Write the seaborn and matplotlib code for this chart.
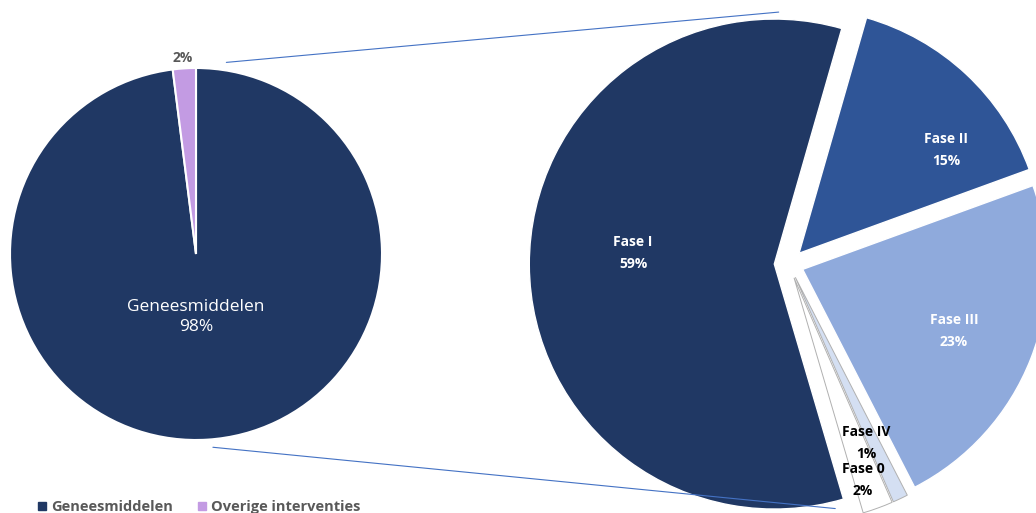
import numpy as np
import seaborn as sns
import matplotlib.pyplot as plt
from matplotlib.lines import Line2D

sns.set_theme(style="white")
plt.rcParams['font.family'] = ['Open Sans', 'DejaVu Sans']

# left pie: all interventions
groups = ["Geneesmiddelen", "Overige interventies"]
group_pct = [98, 2]
group_colors = ["#203864", "#c39be3"]

# right pie: phases within Geneesmiddelen (clockwise order)
phases = ["Fase I", "Fase II", "Fase III", "Fase IV", "Fase 0"]
phase_pct = [59, 15, 23, 1, 2]
phase_colors = ["#203864", "#2f5597", "#8faadc", "#d4dff2", "#ffffff"]
phase_explode = [0.06, 0.06, 0.06, 0.06, 0.06]

W, H = 1036, 513
fig = plt.figure(figsize=(W / 100, H / 100), dpi=100)
ax = fig.add_axes([0, 0, 1, 1])

def px(x, y):
    return x, H - y

c1, r1 = px(196, 254), 186
c2, r2 = px(789, 264), 245

w1, _ = ax.pie(group_pct, colors=group_colors, startangle=90, counterclock=False,
               center=c1, radius=r1, frame=True,
               wedgeprops=dict(edgecolor="white", linewidth=1.5))

# explode in pie() is an absolute offset, so scale by the radius
start2 = 74 + 360 * phase_pct[0] / 100
w2, _ = ax.pie(phase_pct, colors=phase_colors, startangle=start2, counterclock=False,
               center=c2, radius=r2, explode=[e * r2 for e in phase_explode], frame=True,
               wedgeprops=dict(edgecolor="white", linewidth=1))
for w in w2[3:]:
    w.set_edgecolor("#b0b0b0")
    w.set_linewidth(0.7)

ax.set_xlim(0, W)
ax.set_ylim(0, H)
ax.set_aspect("equal")
ax.axis("off")

# connector lines between the two pies
def on_circle(c, r, ang):
    a = np.deg2rad(ang)
    return c[0] + r * np.cos(a), c[1] + r * np.sin(a)

for a1, a2 in [(81, 89), (-85, -76)]:
    p1 = on_circle(c1, r1 + 8, a1)
    p2 = on_circle(w2[0].center, r2 + 7, a2)
    ax.plot([p1[0], p2[0]], [p1[1], p2[1]], color="#4472c4", lw=0.8)

# labels
ax.text(*px(196, 317), f"{groups[0]}\n{group_pct[0]}%", color="white", fontsize=12.5,
        ha="center", va="center", linespacing=1.3)
ax.text(*px(183, 58), f"{group_pct[1]}%", color="#595959", fontsize=10,
        fontweight="bold", ha="center", va="center")

label_pos = [(633, 253), (946, 150), (954, 331), (866, 443), (863, 480)]
label_col = ["white", "white", "white", "black", "black"]
for name, v, pos, col in zip(phases, phase_pct, label_pos, label_col):
    ax.text(*px(*pos), f"{name}\n{v}%", color=col, fontsize=10, fontweight="bold",
            ha="center", va="center", linespacing=1.7)

handles = [Line2D([], [], marker="s", linestyle="", color=c, markersize=6) for c in group_colors]
leg = ax.legend(handles, groups, loc="lower left", bbox_to_anchor=(22 / W, -14 / H),
                ncol=2, frameon=False, handletextpad=0.1, columnspacing=1.5,
                handlelength=1.0, prop=dict(size=10.5, weight="bold"))
for t in leg.get_texts():
    t.set_color("#595959")

fig.savefig("out.png", dpi=100)
